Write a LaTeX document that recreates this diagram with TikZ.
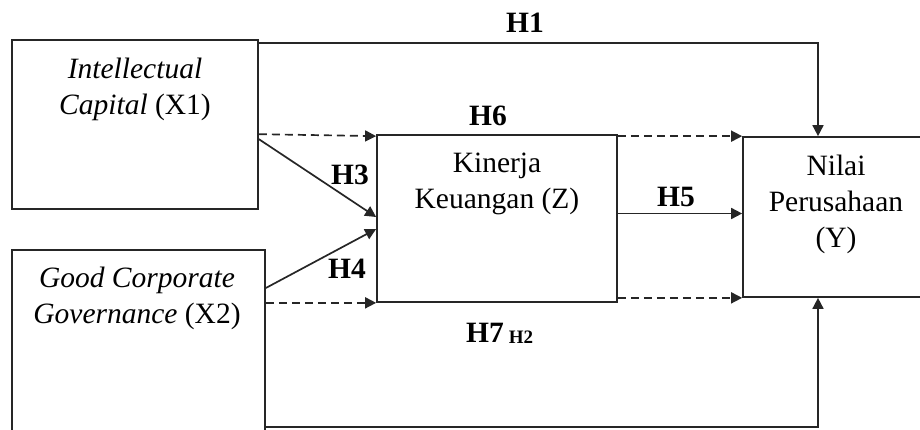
\documentclass[tikz,border=0pt]{standalone}
\usepackage{fontspec}
\setmainfont{Liberation Serif}
\usetikzlibrary{arrows.meta,calc}

\begin{document}
\begin{tikzpicture}[x=1pt,y=-1pt,
        box/.style={draw=black!85,line width=1.7pt,rectangle,inner sep=0pt},
        link/.style={-{Triangle[length=11pt,width=11pt]},line width=1.7pt,draw=black!85},
        dlink/.style={link,dash pattern=on 8pt off 5pt},
        hyp/.style={font=\fontsize{29.5}{36}\selectfont\bfseries,inner sep=0pt},
        txt/.style={align=center,anchor=north,inner sep=0pt,font=\fontsize{29.5}{36}\selectfont}]
        \clip (0,0) rectangle (920,429);
        \node[box,minimum width=246pt,minimum height=169pt] (x1) at (135,124.5) {};
        \node[box,minimum width=253pt,minimum height=230pt] (x2) at (138.5,365) {};
        \node[box,minimum width=240pt,minimum height=167pt] (z) at (497,218.5) {};
        \node[box,minimum width=217pt,minimum height=160pt] (y) at (851.5,217) {};
        \node[txt] (x1text) at (135,58) {\textit{Intellectual}\\\textit{Capital} (X1)};
        \node[txt] (x2text) at (137,267) {\textit{Good Corporate}\\\textit{Governance} (X2)};
        \node[txt] (ztext) at (497,153) {Kinerja\\Keuangan (Z)};
        \node[txt] (ytext) at (836,155) {Nilai\\Perusahaan\\(Y)};
        % direct paths
        \draw[link] ([yshift=-4pt]x1.north east) -| ([xshift=-33.5pt]y.north);
        \draw[link] ([yshift=-62pt]x2.east) -| ([xshift=-33.5pt]y.south);
        \draw[link] ([yshift=-100pt]x1.north east) -- ([yshift=1.5pt]z.west);
        \draw[link] ([yshift=77pt]x2.east) -- ([yshift=-10.5pt]z.west);
        \coordinate (h5) at ([yshift=5pt]z.east);
        \draw[link] (h5) -- (h5 -| y.west);
        % mediated paths
        \draw[dlink] (x1.east |- z.north west) -- ([yshift=-2pt]z.north west);
        \draw[dlink] (x2.east |- z.south west) -- (z.south west);
        \draw[dlink] ([yshift=-2pt]z.north east) -- (y.north west);
        \draw[dlink] (z.east |- y.south west) -- (y.south west);
        % labels
        \node[hyp] (h1) at (525,23) {H1};
        \node[hyp] (h6) at (488,116) {H6};
        \node[hyp] (h3) at (350,175) {H3};
        \node[hyp] (h4) at (347,269) {H4};
        \node[hyp] (h5l) at (676,197) {H5};
        \node[hyp] (h7) at (485,333) {H7};
        \node[hyp,font=\fontsize{19}{22}\selectfont\bfseries] (h2) at (521,337) {H2};
    \end{tikzpicture}
\end{document}
